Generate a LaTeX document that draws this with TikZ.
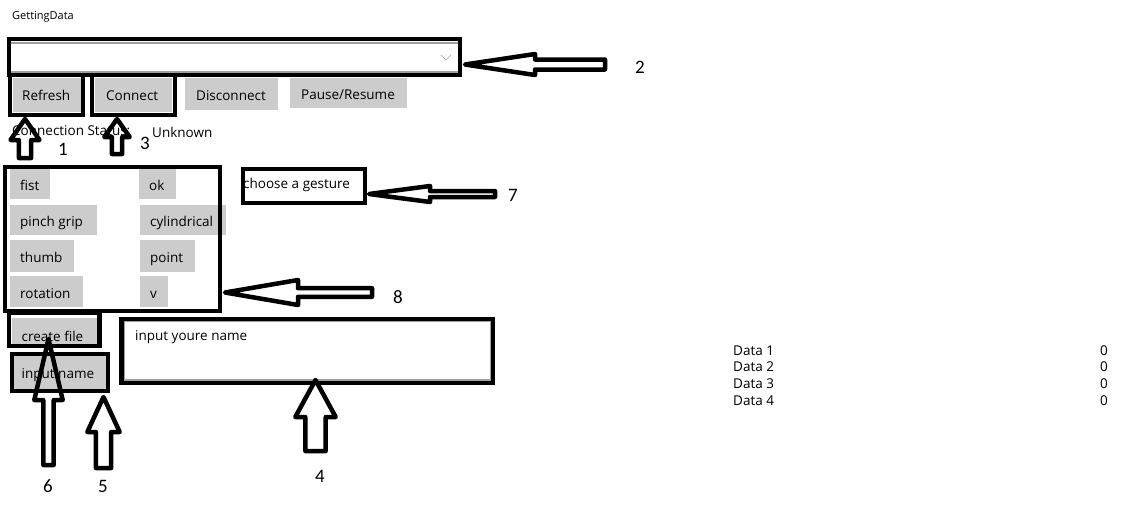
\documentclass[tikz,border=0pt]{standalone}
\usepackage{fontspec}
\setmainfont{Open Sans}
\newfontfamily\labfont{Carlito}
\definecolor{btngray}{HTML}{CCCCCC}
\definecolor{edgegray}{HTML}{A0A0A0}
\newcommand\BlkArrow[6]{%
  \draw[blockarrow, shift={#1}, rotate=#2] (0,0) -- (-#4,#5) -- (-#4,#6) -- (-#3,#6) -- (-#3,-#6) -- (-#4,-#6) -- (-#4,-#5) -- cycle;}
\begin{document}
\begin{tikzpicture}[x=1pt,y=-1pt,
  txt/.style={anchor=base west, inner sep=0pt, font=\fontsize{13.5}{16}\selectfont},
  numtxt/.style={anchor=base east, inner sep=0pt, font=\fontsize{13.5}{16}\selectfont},
  lab/.style={anchor=base, inner sep=0pt, font=\labfont\fontsize{19}{22}\selectfont},
  boxline/.style={draw=black, line width=4.5pt},
  blockarrow/.style={draw=black, line width=4.5pt, line join=round},
  btn/.style={fill=btngray}]
\useasboundingbox[fill=white] (0,0) rectangle (1141,517);

% title
\node[txt, font=\fontsize{11}{13}\selectfont] (title) at (12,19) {GettingData};

% combobox
\draw[edgegray, line width=1.5pt] (10,43) rectangle (460,72);
\draw[edgegray, line width=0.6pt] (441,55) -- (446,60) -- (451,55);
\draw[boxline] (9,39) rectangle (460,75);

% top buttons
\fill[btn] (13,78) rectangle (82,112);
\fill[btn] (95,78) rectangle (172,112);
\fill[btn] (185,78) rectangle (278,110);
\fill[btn] (290,78) rectangle (407,108);
\node[txt] (refresh) at (22,100) {Refresh};
\node[txt] (connect) at (106,100) {Connect};
\node[txt] (disconnect) at (196,100) {Disconnect};
\node[txt] (pause) at (301,99) {Pause/Resume};
\draw[boxline] (10,75) rectangle (83,115);
\draw[boxline] (92,75) rectangle (175,115);

% status
\node[txt] (status) at (12,135) {Connection Status:};
\node[txt] (unknown) at (152,137) {Unknown};

% gesture buttons
\fill[btn] (10,168) rectangle (50,199);
\fill[btn] (10,205) rectangle (97,235);
\fill[btn] (10,240) rectangle (74,272);
\fill[btn] (10,276) rectangle (83,307);
\fill[btn] (139,168) rectangle (176,199);
\fill[btn] (140,205) rectangle (226,235);
\fill[btn] (140,240) rectangle (195,272);
\fill[btn] (140,276) rectangle (168,307);
\node[txt] (fist) at (20,190) {fist};
\node[txt] (pinch) at (20,226) {pinch grip};
\node[txt] (thumb) at (20,262) {thumb};
\node[txt] (rotation) at (20,298) {rotation};
\node[txt] (ok) at (149,190) {ok};
\node[txt] (cyl) at (150,226) {cylindrical};
\node[txt] (point) at (150,262) {point};
\node[txt] (v) at (150,298) {v};
\draw[boxline] (5,167) rectangle (220,311);

% choose a gesture
\node[txt] (choose) at (243,188) {choose a gesture};
\draw[boxline] (243,169) rectangle (365,203);

% file buttons
\fill[btn] (12,318) rectangle (97,345);
\fill[btn] (13,355) rectangle (108,392);
\node[txt] (create) at (21.5,341) {create file};
\node[txt] (inname) at (21.5,378) {input name};
\draw[boxline] (9,313) rectangle (99.5,346);
\draw[boxline] (12,354) rectangle (108,391);

% text box
\draw[edgegray, line width=1.5pt] (124,321) rectangle (491,380);
\node[txt] (inputbox) at (135,340) {input youre name};
\draw[boxline] (121.5,319) rectangle (493,383);

% data table
\node[txt] (d1) at (733,355) {Data 1};
\node[txt] (d2) at (733,371) {Data 2};
\node[txt] (d3) at (733,388) {Data 3};
\node[txt] (d4) at (733,405) {Data 4};
\node[numtxt] (v1) at (1108,355) {0};
\node[numtxt] (v2) at (1108,371) {0};
\node[numtxt] (v3) at (1108,388) {0};
\node[numtxt] (v4) at (1108,405) {0};

% arrow tips
\coordinate (t2) at (465,64.5);
\coordinate (t7) at (369,194);
\coordinate (t8) at (225,292.5);
\coordinate (t1) at (25,119);
\coordinate (t3) at (117,119);
\coordinate (t4) at (315.5,380);
\coordinate (t5) at (103.5,397);
\coordinate (t6) at (48.5,339);

% block arrows: tip, angle, length, head length, head half, shaft half
\BlkArrow{(t2)}{180}{140}{70}{10.5}{5}
\BlkArrow{(t7)}{180}{126}{61}{8}{3}
\BlkArrow{(t8)}{180}{147}{73}{12.5}{4.3}
\BlkArrow{(t1)}{90}{39}{21}{14.5}{6.2}
\BlkArrow{(t3)}{90}{35}{18}{12.7}{5.2}
\BlkArrow{(t4)}{90}{71}{37}{20.2}{10.2}
\BlkArrow{(t5)}{90}{71}{35}{16.2}{7.7}
\BlkArrow{(t6)}{90}{126}{61}{14.2}{5.2}

% labels
\node[lab] (l1) at (63,155) {1};
\node[lab] (l2) at (640,73) {2};
\node[lab] (l3) at (145,149) {3};
\node[lab] (l4) at (320,482) {4};
\node[lab] (l5) at (103,492) {5};
\node[lab] (l6) at (48,492) {6};
\node[lab] (l7) at (513,201) {7};
\node[lab] (l8) at (398,303) {8};
\end{tikzpicture}
\end{document}
